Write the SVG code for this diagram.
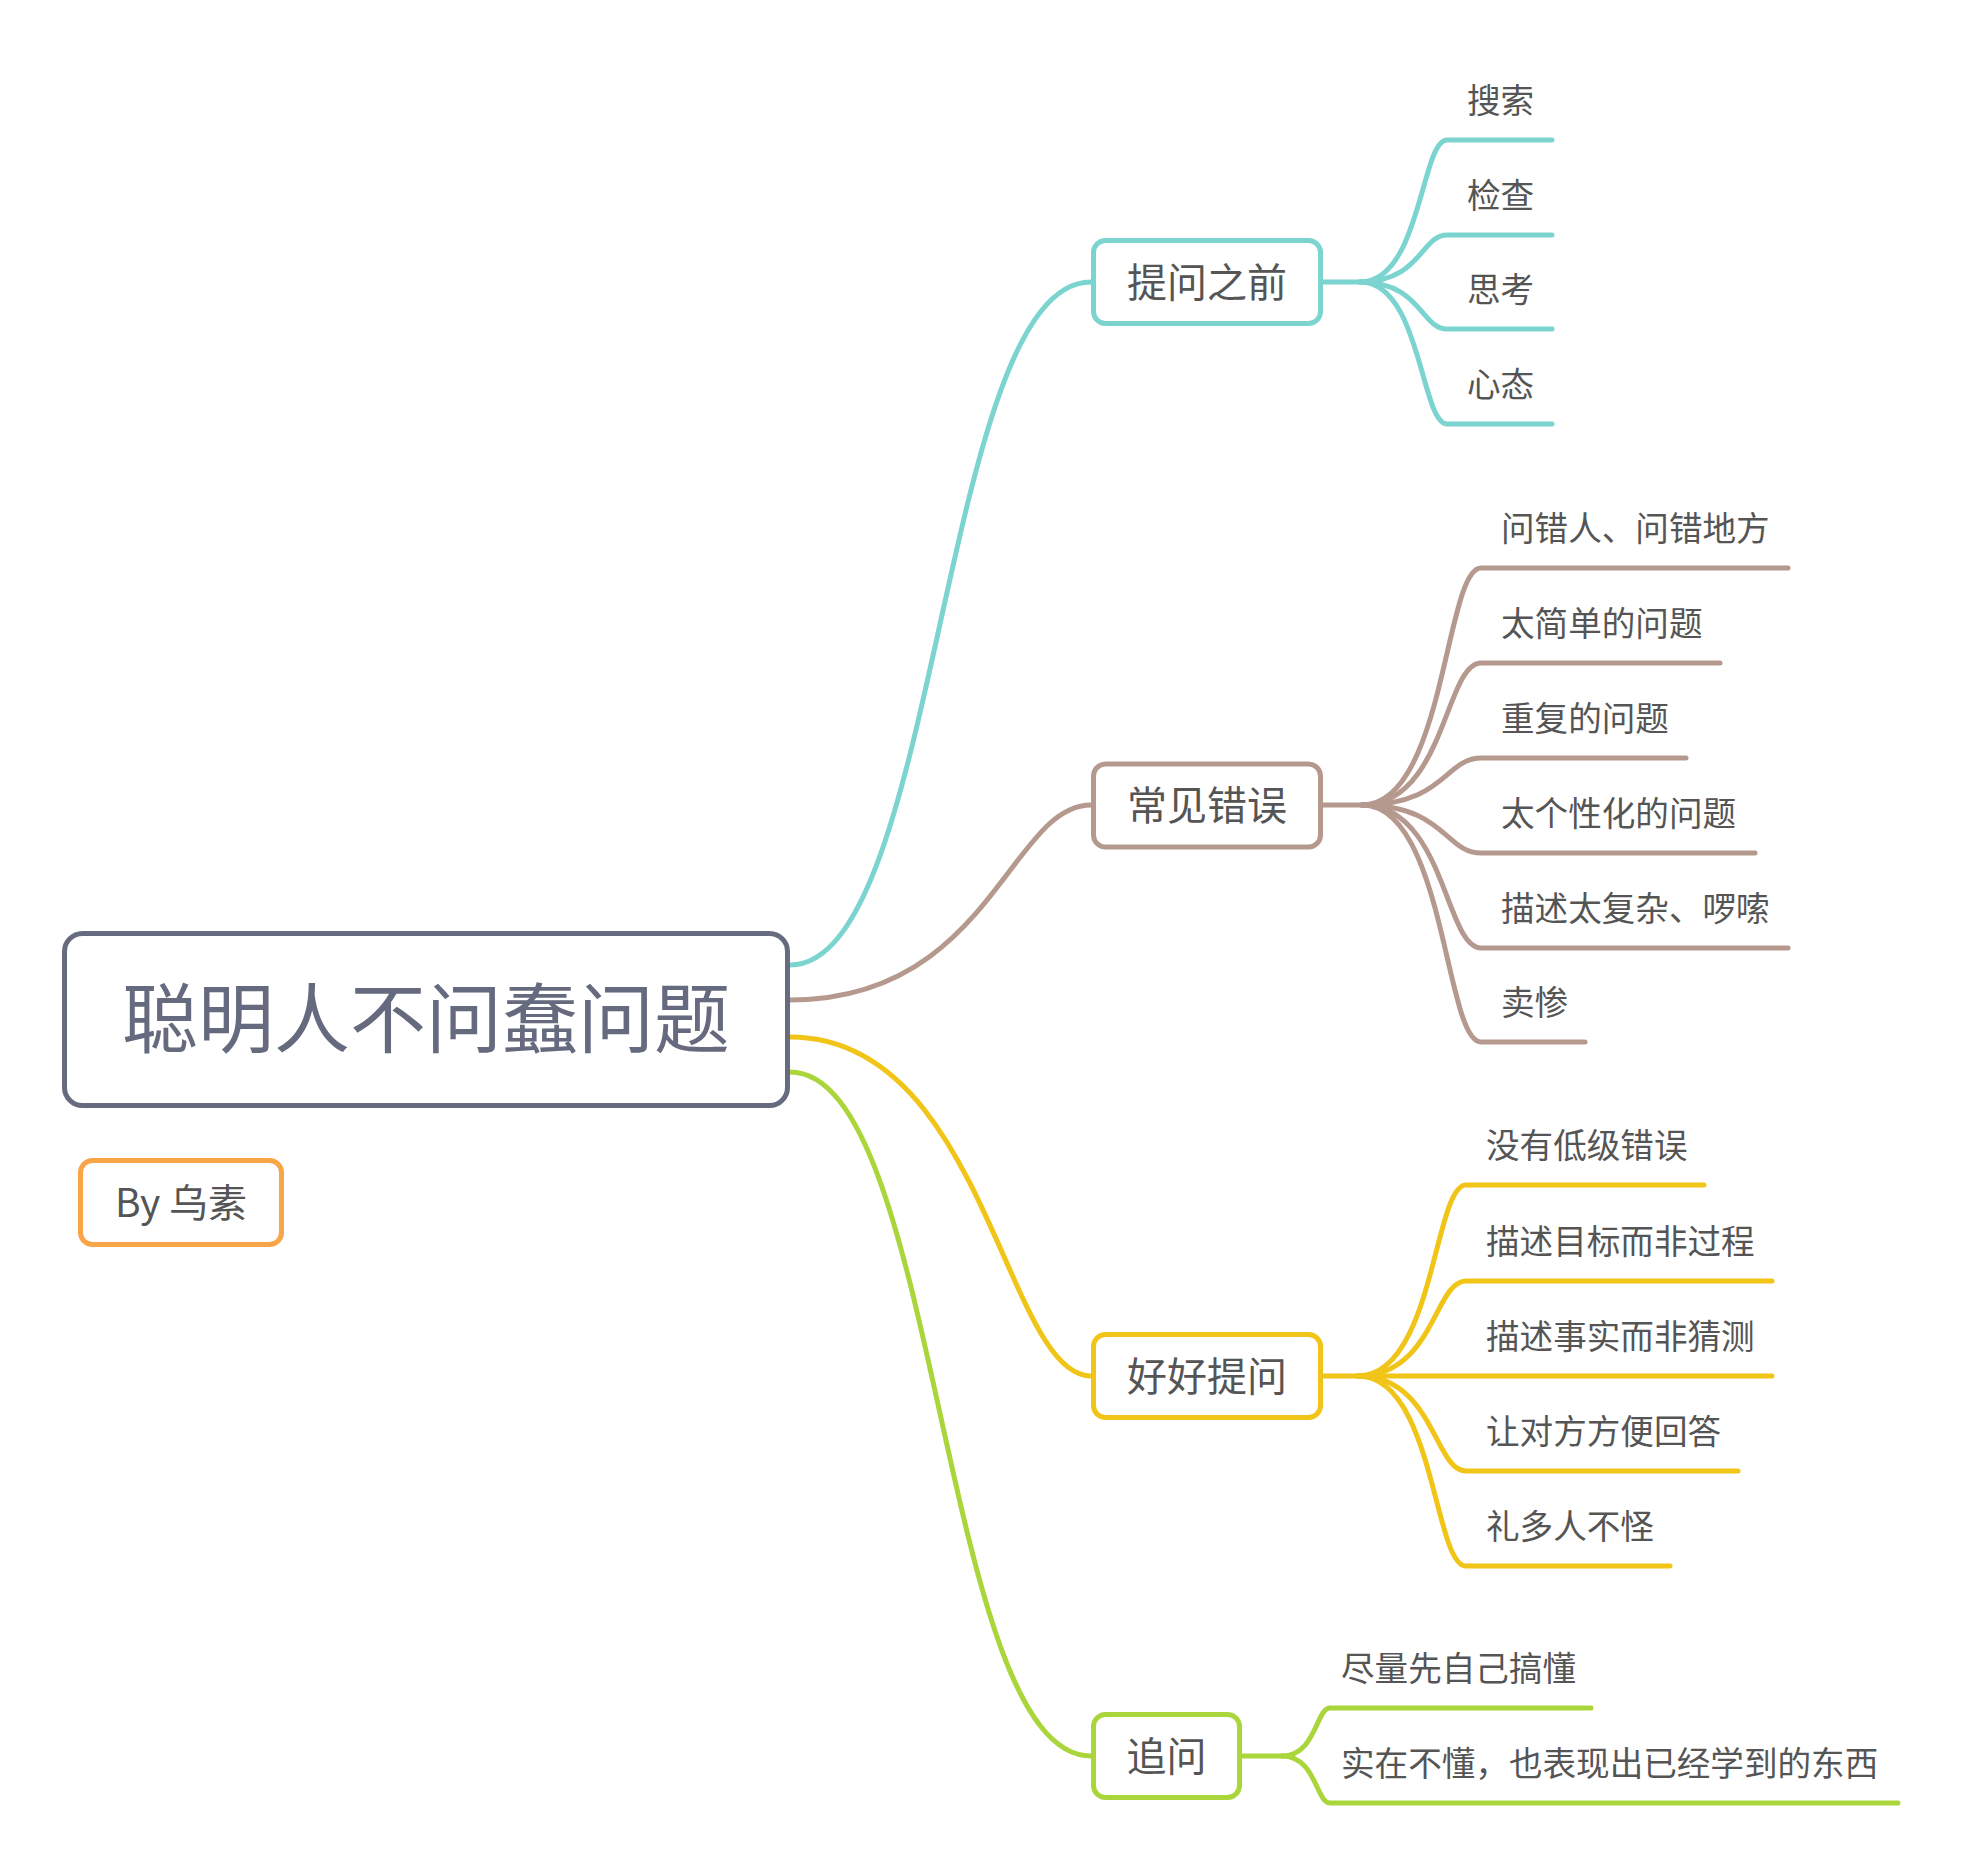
<svg xmlns="http://www.w3.org/2000/svg" width="1961" height="1867" viewBox="0 0 1961 1867">
<style>
.c{fill:none;stroke-width:5;stroke-linecap:round;stroke-linejoin:round}
.teal{stroke:#7cd4d0}
.brown{stroke:#b5998e}
.yellow{stroke:#f1c418}
.green{stroke:#aad63b}
.box{fill:#ffffff;stroke-width:5}
.t{font-family:"Noto Sans CJK SC","Noto Sans",sans-serif;fill:#555555}
.l1{font-size:40px;text-anchor:middle}
.l2{font-size:33.6px}
</style>
<rect width="1961" height="1867" fill="#ffffff"/>
<g id="connectors">
<path class="c teal" d="M790 965 C940 965 940 282 1091 282"/>
<path class="c brown" d="M790 1000 C990 1000 1010 805 1091 805"/>
<path class="c yellow" d="M790 1037 C985 1037 1005 1376 1091 1376"/>
<path class="c green" d="M790 1072 C940 1072 940 1756 1091 1756"/>
<path class="c teal" d="M1323 282 H1360"/>
<path class="c teal" d="M1360 282 C1421 282 1421 140 1447 140 H1552"/>
<path class="c teal" d="M1360 282 C1421 282 1421 235 1447 235 H1552"/>
<path class="c teal" d="M1360 282 C1421 282 1421 329 1447 329 H1552"/>
<path class="c teal" d="M1360 282 C1421 282 1421 424 1447 424 H1552"/>
<path class="c brown" d="M1323 805 H1362"/>
<path class="c brown" d="M1362 805 C1445 805 1445 568 1481 568 H1788"/>
<path class="c brown" d="M1362 805 C1445 805 1445 663 1481 663 H1720"/>
<path class="c brown" d="M1362 805 C1445 805 1445 758 1481 758 H1686"/>
<path class="c brown" d="M1362 805 C1445 805 1445 853 1481 853 H1755"/>
<path class="c brown" d="M1362 805 C1445 805 1445 948 1481 948 H1788"/>
<path class="c brown" d="M1362 805 C1445 805 1445 1042 1481 1042 H1585"/>
<path class="c yellow" d="M1323 1376 H1358"/>
<path class="c yellow" d="M1358 1376 C1434 1376 1434 1185 1466 1185 H1704"/>
<path class="c yellow" d="M1358 1376 C1434 1376 1434 1281 1466 1281 H1772"/>
<path class="c yellow" d="M1358 1376 H1772"/>
<path class="c yellow" d="M1358 1376 C1434 1376 1434 1471 1466 1471 H1738"/>
<path class="c yellow" d="M1358 1376 C1434 1376 1434 1566 1466 1566 H1670"/>
<path class="c green" d="M1242 1756 H1282"/>
<path class="c green" d="M1282 1756 C1316 1756 1316 1708 1330 1708 H1591"/>
<path class="c green" d="M1282 1756 C1316 1756 1316 1803 1330 1803 H1898"/>
</g>
<g id="root">
<rect class="box" x="64.5" y="933.5" width="723" height="172" rx="18" stroke="#676b80"/>
<text class="t" x="426" y="1047" font-size="76" text-anchor="middle" style="fill:#656a7e">聪明人不问蠢问题</text>
</g>
<g id="author">
<rect class="box" x="80.5" y="1160.5" width="201" height="84" rx="12" stroke="#f8a548"/>
<text class="t" x="181" y="1217" font-size="39" text-anchor="middle">By 乌素</text>
</g>
<g id="n-before">
<rect class="box" x="1093.5" y="240.5" width="227" height="83" rx="12" stroke="#7cd4d0"/>
<text class="t l1" x="1207" y="297">提问之前</text>
</g>
<g id="n-search"><text class="t l2" x="1467" y="113">搜索</text></g>
<g id="n-check"><text class="t l2" x="1467" y="208">检查</text></g>
<g id="n-think"><text class="t l2" x="1467" y="302">思考</text></g>
<g id="n-mind"><text class="t l2" x="1467" y="397">心态</text></g>
<g id="n-mistakes">
<rect class="box" x="1093.5" y="764" width="227" height="83" rx="12" stroke="#b5998e"/>
<text class="t l1" x="1207" y="820">常见错误</text>
</g>
<g id="n-m1"><text class="t l2" x="1501" y="541">问错人、问错地方</text></g>
<g id="n-m2"><text class="t l2" x="1501" y="636">太简单的问题</text></g>
<g id="n-m3"><text class="t l2" x="1501" y="731">重复的问题</text></g>
<g id="n-m4"><text class="t l2" x="1501" y="826">太个性化的问题</text></g>
<g id="n-m5"><text class="t l2" x="1501" y="921">描述太复杂、啰嗦</text></g>
<g id="n-m6"><text class="t l2" x="1501" y="1015">卖惨</text></g>
<g id="n-ask">
<rect class="box" x="1093.5" y="1334.5" width="227" height="83" rx="12" stroke="#f1c418"/>
<text class="t l1" x="1207" y="1391">好好提问</text>
</g>
<g id="n-a1"><text class="t l2" x="1486" y="1158">没有低级错误</text></g>
<g id="n-a2"><text class="t l2" x="1486" y="1254">描述目标而非过程</text></g>
<g id="n-a3"><text class="t l2" x="1486" y="1349">描述事实而非猜测</text></g>
<g id="n-a4"><text class="t l2" x="1486" y="1444">让对方方便回答</text></g>
<g id="n-a5"><text class="t l2" x="1486" y="1539">礼多人不怪</text></g>
<g id="n-follow">
<rect class="box" x="1093.5" y="1714.5" width="146" height="83" rx="12" stroke="#aad63b"/>
<text class="t l1" x="1166.5" y="1771">追问</text>
</g>
<g id="n-f1"><text class="t l2" x="1341" y="1681">尽量先自己搞懂</text></g>
<g id="n-f2"><text class="t l2" x="1341" y="1776">实在不懂，也表现出已经学到的东西</text></g>
</svg>
